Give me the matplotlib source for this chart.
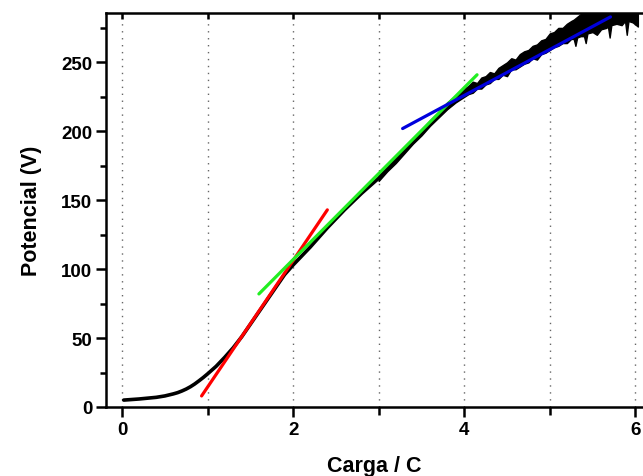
import numpy as np
import matplotlib
matplotlib.use("Agg")
import matplotlib.pyplot as plt
from matplotlib.ticker import MultipleLocator

plt.rcParams['font.family'] = ['Liberation Sans', 'DejaVu Sans']
plt.rcParams['font.weight'] = 'bold'

# smooth part of the measured curve (Carga, Potencial)
curve_x = [0.02, 0.2, 0.4, 0.5, 0.6, 0.65, 0.7, 0.75, 0.8, 0.85, 0.9, 0.95,
           1.0, 1.1, 1.2, 1.3, 1.4, 1.5, 1.6, 1.7, 1.8, 1.9, 2.0, 2.2, 2.4,
           2.6, 2.8, 3.0, 3.2, 3.4, 3.6, 3.8, 4.0]
curve_y = [5, 5.8, 7, 8, 9.5, 10.4, 11.6, 13, 14.7, 16.7, 19, 21.4,
           24, 29.5, 36, 43, 51, 60, 69, 78, 87, 96, 103, 116, 130,
           143, 155, 166, 179, 192, 205, 217, 227]

# noisy part: upper / lower envelope
band_x = [3.0, 3.1, 3.2, 3.3, 3.4, 3.5, 3.6, 3.7, 3.8, 3.9,
          4.0, 4.05, 4.1, 4.15, 4.2, 4.25, 4.3, 4.35, 4.4, 4.45,
          4.5, 4.55, 4.6, 4.65, 4.7, 4.75, 4.8, 4.85, 4.9, 4.95,
          5.0, 5.05, 5.1, 5.15, 5.2, 5.25, 5.28, 5.30, 5.32, 5.36,
          5.40, 5.42, 5.44, 5.50, 5.55, 5.60, 5.66, 5.68, 5.70, 5.72,
          5.78, 5.84, 5.88, 5.90, 5.92, 5.97, 6.03]
band_hi = [168, 174, 181, 188, 195, 201, 208, 214, 221, 226,
           231, 233, 236, 235, 239, 240, 243, 242, 246, 248,
           250, 253, 252, 256, 258, 259, 262, 263, 266, 267,
           271, 272, 275, 275, 278, 280, 281, 282, 283, 285,
           286, 287, 288, 289, 290, 291, 291, 292, 292, 292,
           293, 293, 294, 294, 294, 295, 295]
band_lo = [164, 171, 177, 184, 191, 197, 204, 210, 216, 221,
           225, 227, 228, 231, 231, 234, 235, 238, 238, 241,
           240, 245, 245, 247, 249, 250, 253, 252, 256, 257,
           259, 261, 262, 264, 264, 267, 267, 262, 268, 269,
           269, 264, 271, 272, 270, 274, 275, 276, 268, 277,
           278, 277, 280, 270, 280, 279, 276]

# linear fits (end points)
red_x, red_y = [0.93, 2.40], [8, 143]
green_x, green_y = [1.60, 4.15], [82, 241]
blue_x, blue_y = [3.28, 5.71], [202, 283]

fig = plt.figure(figsize=(6.43, 4.77), dpi=100)
ax = fig.add_axes([0.1649, 0.1447, 0.8351, 0.8259])

ax.plot(curve_x, curve_y, color='black', linewidth=2.6, solid_capstyle='round',
        solid_joinstyle='round', zorder=3)
ax.fill_between(band_x, band_lo, band_hi, color='black', linewidth=1.0,
                edgecolor='black', zorder=3)

ax.plot(red_x, red_y, color='#ff0000', linewidth=2.3, solid_capstyle='round', zorder=4)
ax.plot(green_x, green_y, color='#22ee22', linewidth=2.3, solid_capstyle='round', zorder=4)
ax.plot(blue_x, blue_y, color='#0000dd', linewidth=2.3, solid_capstyle='round', zorder=5)

ax.set_xlim(-0.187, 6.09)
ax.set_ylim(0, 285.8)

ax.xaxis.set_major_locator(MultipleLocator(2))
ax.xaxis.set_minor_locator(MultipleLocator(1))
ax.yaxis.set_major_locator(MultipleLocator(50))
ax.yaxis.set_minor_locator(MultipleLocator(25))

ax.grid(True, axis='x', which='both', linestyle=(0, (1, 4)), color='#666666', linewidth=1.0)
ax.set_axisbelow(True)

for side in ['left', 'bottom', 'top']:
    ax.spines[side].set_linewidth(1.8)
ax.spines['right'].set_visible(False)

ax.tick_params(axis='both', which='major', direction='out', length=7, width=1.8,
               labelsize=13.5, pad=3)
ax.tick_params(axis='both', which='minor', direction='out', length=4.5, width=1.8)
ax.tick_params(axis='x', which='both', top=True)
ax.tick_params(axis='x', which='minor', length=6)
for lab in ax.get_xticklabels() + ax.get_yticklabels():
    lab.set_fontweight('bold')

# ticks on top point inward
for t in ax.xaxis.get_major_ticks() + ax.xaxis.get_minor_ticks():
    t.tick2line.set_marker(3)
    t.tick2line.set_markersize(4)

ax.set_xlabel('Carga / C', fontsize=15.5, fontweight='bold', labelpad=12)
ax.set_ylabel('Potencial (V)', fontsize=15.5, fontweight='bold', labelpad=14)

plt.savefig('out.png', dpi=100)
plt.close()
